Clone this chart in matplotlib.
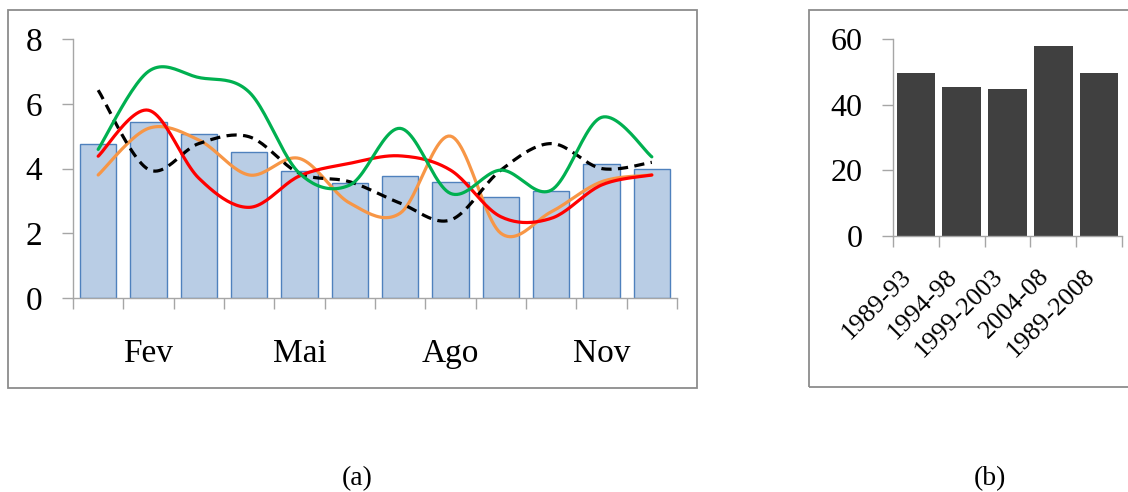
import numpy as np
import matplotlib
matplotlib.use("Agg")
import matplotlib.pyplot as plt
from matplotlib.patches import Rectangle
from matplotlib.ticker import FixedLocator
from matplotlib.transforms import ScaledTranslation

plt.rcParams["font.family"] = ["Liberation Serif", "DejaVu Serif"]

# --- data ---------------------------------------------------------------
months = ["Jan", "Fev", "Mar", "Abr", "Mai", "Jun",
          "Jul", "Ago", "Set", "Out", "Nov", "Dez"]
monthly_mean = [4.77, 5.45, 5.08, 4.50, 3.91, 3.55,
                3.76, 3.58, 3.11, 3.32, 4.13, 4.00]
line_green = [4.59, 7.00, 6.81, 6.36, 3.85, 3.49,
              5.24, 3.23, 3.95, 3.33, 5.58, 4.36]
line_red = [4.38, 5.80, 3.70, 2.80, 3.77, 4.16,
            4.39, 3.95, 2.51, 2.46, 3.49, 3.80]
line_orange = [3.80, 5.24, 4.88, 3.80, 4.31, 2.93,
               2.62, 5.00, 2.00, 2.66, 3.59, 3.80]
line_black = [6.42, 3.97, 4.77, 4.98, 3.85, 3.59,
              2.93, 2.41, 3.95, 4.77, 4.00, 4.19]

periods = ["1989-93", "1994-98", "1999-2003", "2004-08", "1989-2008"]
period_totals = [49.8, 45.5, 44.8, 58.0, 49.8]

W, H = 1128, 492


def smooth(x, y, n=24):
    """Bezier smoothing through every point (Catmull-Rom style)."""
    x = np.asarray(x, float)
    y = np.asarray(y, float)
    px = np.concatenate([[x[0]], x, [x[-1]]])
    py = np.concatenate([[y[0]], y, [y[-1]]])
    t = np.linspace(0, 1, n)[:, None]
    pts = []
    for i in range(len(x) - 1):
        p0 = np.array([px[i], py[i]])
        p1 = np.array([px[i + 1], py[i + 1]])
        p2 = np.array([px[i + 2], py[i + 2]])
        p3 = np.array([px[i + 3], py[i + 3]])
        c1 = p1 + (p2 - p0) / 6.0
        c2 = p2 - (p3 - p1) / 6.0
        seg = ((1 - t) ** 3) * p1 + 3 * ((1 - t) ** 2) * t * c1 \
            + 3 * (1 - t) * t ** 2 * c2 + t ** 3 * p2
        pts.append(seg if i == 0 else seg[1:])
    pts = np.vstack(pts)
    return pts[:, 0], pts[:, 1]


def px_axes(fig, left, right, top, bottom):
    return fig.add_axes([left / W, 1 - bottom / H,
                         (right - left) / W, (bottom - top) / H])


fig = plt.figure(figsize=(W / 100, H / 100), dpi=100)
fig.patch.set_facecolor("white")

axis_grey = "#A6A6A6"

# --- panel (a): monthly bars with smoothed period curves -----------------
ax = px_axes(fig, 73, 677, 39, 298)
xs = np.arange(len(months))
ax.bar(xs, monthly_mean, width=0.72, color="#B9CDE5",
       edgecolor="#4F81BD", linewidth=1.0, zorder=2)

for vals, col, ls in [(line_orange, "#F79646", "-"),
                      (line_black, "black", "--"),
                      (line_red, "#FF0000", "-"),
                      (line_green, "#00B050", "-")]:
    sx, sy = smooth(xs, vals)
    line, = ax.plot(sx, sy, color=col, lw=2.3, ls=ls, zorder=3,
                    solid_capstyle="round")
    if ls == "--":
        line.set_dashes((3.2, 2.0))

ax.set_xlim(-0.5, len(months) - 0.5)
ax.set_ylim(0, 8)
ax.set_yticks([0, 2, 4, 6, 8])
ax.set_xticks(xs[1::3])
ax.set_xticklabels(months[1::3])
ax.xaxis.set_minor_locator(FixedLocator(np.arange(-0.5, len(months), 1.0)))
ax.tick_params(axis="x", which="major", length=0, pad=29, labelsize=24)
ax.tick_params(axis="x", which="minor", length=8, width=1, color=axis_grey,
               direction="out")
ax.tick_params(axis="y", length=8, width=1, color=axis_grey, pad=14,
               labelsize=24)
for s in ["top", "right"]:
    ax.spines[s].set_visible(False)
for s in ["left", "bottom"]:
    ax.spines[s].set_color(axis_grey)
    ax.spines[s].set_linewidth(1.0)

# --- panel (b): totals per period ---------------------------------------
bx = px_axes(fig, 893, 1122, 39.3, 236)
bxs = np.arange(len(periods))
bx.bar(bxs, period_totals, width=0.84, color="#404040", zorder=2)
bx.set_xlim(-0.5, len(periods) - 0.5)
bx.set_ylim(0, 60)
bx.set_yticks([0, 20, 40, 60])
bx.set_xticks(bxs)
bx.set_xticklabels(periods, rotation=45, ha="right")
shift = ScaledTranslation(5 / 100, 0, fig.dpi_scale_trans)
for lab in bx.get_xticklabels():
    lab.set_transform(lab.get_transform() + shift)
bx.xaxis.set_minor_locator(FixedLocator(np.arange(-0.5, len(periods), 1.0)))
bx.tick_params(axis="x", which="major", length=0, pad=21, labelsize=19)
bx.tick_params(axis="x", which="minor", length=8, width=1, color=axis_grey)
bx.tick_params(axis="y", length=8, width=1, color=axis_grey, pad=14,
               labelsize=23)
for s in ["top", "right"]:
    bx.spines[s].set_visible(False)
for s in ["left", "bottom"]:
    bx.spines[s].set_color(axis_grey)
    bx.spines[s].set_linewidth(1.0)

# --- frames and panel letters ---------------------------------------------
frame_col = "#8C8C8C"
fig.add_artist(Rectangle((8 / W, 1 - 388 / H), (697 - 8) / W, (388 - 10) / H,
                         transform=fig.transFigure, fill=False,
                         ec=frame_col, lw=1.3))
fig.add_artist(Rectangle((809 / W, 1 - 387 / H), (1140 - 809) / W,
                         (387 - 10) / H, transform=fig.transFigure,
                         fill=False, ec=frame_col, lw=1.3))

fig.text(357 / W, 1 - 479 / H, "(a)", ha="center", va="center", fontsize=20)
fig.text(990 / W, 1 - 479 / H, "(b)", ha="center", va="center", fontsize=20)

fig.savefig("out.png", dpi=100)
